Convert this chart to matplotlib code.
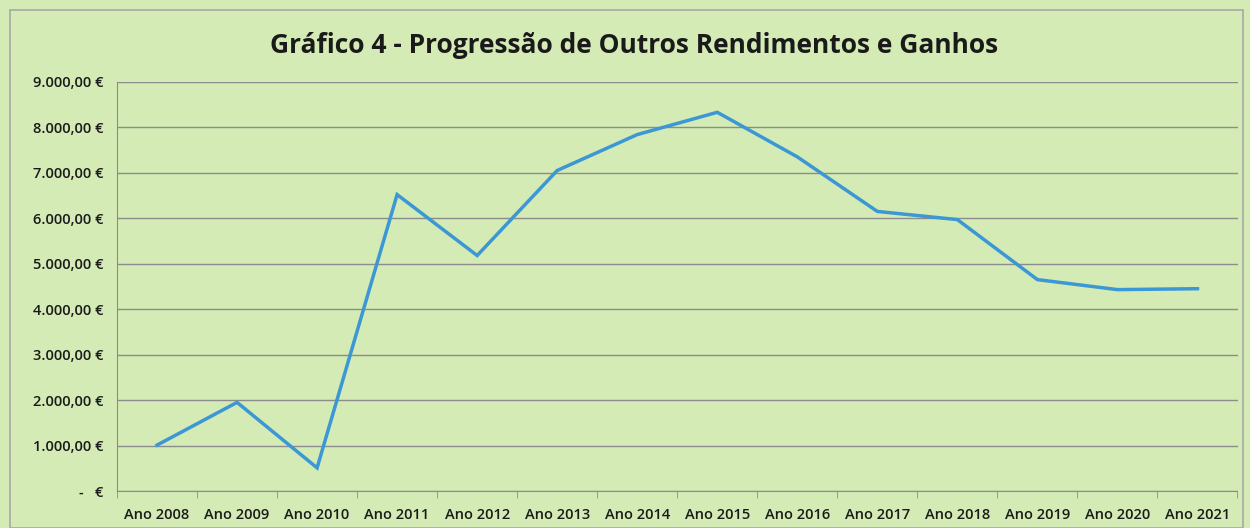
import matplotlib
matplotlib.use("Agg")
import matplotlib.pyplot as plt
from matplotlib.ticker import FixedLocator, FuncFormatter

anos = ["Ano 2008", "Ano 2009", "Ano 2010", "Ano 2011", "Ano 2012", "Ano 2013", "Ano 2014",
        "Ano 2015", "Ano 2016", "Ano 2017", "Ano 2018", "Ano 2019", "Ano 2020", "Ano 2021"]
valores = [1010, 1950, 510, 6520, 5180, 7050, 7840, 8330, 7350, 6150, 5970, 4650, 4430, 4450]
y_ticks = [0, 1000, 2000, 3000, 4000, 5000, 6000, 7000, 8000, 9000]

BG = "#d4ebb5"
plt.rcParams["font.family"] = ["Open Sans", "DejaVu Sans"]


def eur(v, pos=None):
    if v == 0:
        return "-   €"
    s = f"{v:,.2f}".replace(",", "X").replace(".", ",").replace("X", ".")
    return s + " €"


fig = plt.figure(figsize=(12.5, 5.28), dpi=100, facecolor=BG)
ax = fig.add_axes([0.0936, 0.070, 0.8964, 0.775])
ax.set_facecolor(BG)

x = list(range(len(anos)))
ax.plot(x, valores, color="#3b98d4", lw=2.5, solid_joinstyle="miter")

ax.set_xlim(-0.5, len(anos) - 0.5)
ax.set_ylim(0, 9000)
ax.set_yticks(y_ticks)
ax.yaxis.set_major_formatter(FuncFormatter(eur))
ax.set_xticks(x)
ax.set_xticklabels(anos)
ax.xaxis.set_minor_locator(FixedLocator([i - 0.5 for i in range(len(anos) + 1)]))
ax.tick_params(axis="x", which="major", length=0, pad=12, labelsize=10.5, colors="#1a1a1a")
ax.tick_params(axis="x", which="minor", length=5, color="#8c8c8c")
ax.tick_params(axis="y", length=0, pad=10, labelsize=10.5, colors="#1a1a1a")
for lbl in ax.get_yticklabels() + ax.get_xticklabels():
    lbl.set_fontweight("semibold")

ax.grid(axis="y", color="#8c8c8c", lw=1.0)
ax.set_axisbelow(True)
for s in ("top", "right"):
    ax.spines[s].set_visible(False)
ax.spines["left"].set_color("#8c8c8c")
ax.spines["bottom"].set_color("#8c8c8c")

fig.text(0.507, 0.913, "Gráfico 4 - Progressão de Outros Rendimentos e Ganhos",
         ha="center", va="center", fontsize=19, fontweight="bold", color="#1a1a1a")

# moldura exterior do gráfico
fig.patches.append(plt.Rectangle((0.008, 0.0), 0.986, 0.982, transform=fig.transFigure,
                                 fill=False, edgecolor="#a8a8a8", lw=1.2))

fig.savefig("out.png", dpi=100, facecolor=BG)
